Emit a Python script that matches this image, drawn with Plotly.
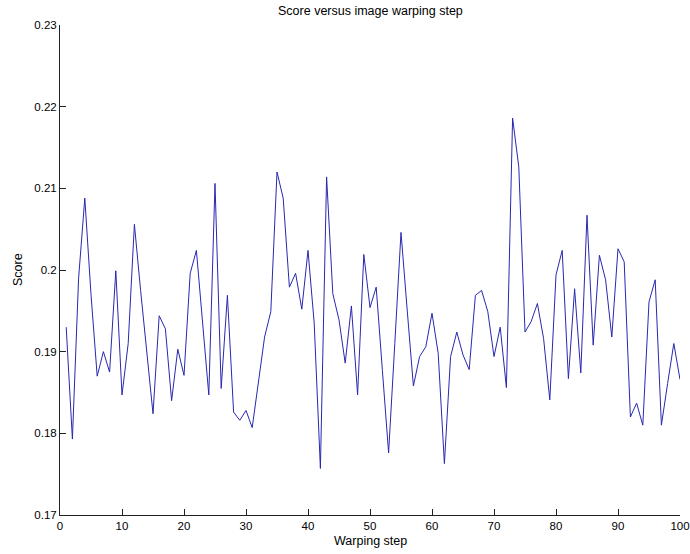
import plotly.graph_objects as go

steps = list(range(1, 101))
scores = [
    0.1930, 0.1793, 0.1990, 0.2088, 0.1970, 0.1870, 0.1900, 0.1875, 0.1999, 0.1847,
    0.1910, 0.2056, 0.1975, 0.1902, 0.1824, 0.1944, 0.1928, 0.1840, 0.1903, 0.1871,
    0.1996, 0.2024, 0.1935, 0.1847, 0.2106, 0.1855, 0.1969, 0.1826, 0.1816, 0.1828,
    0.1807, 0.1863, 0.1918, 0.1949, 0.2120, 0.2088, 0.1979, 0.1996, 0.1952, 0.2024,
    0.1935, 0.1757, 0.2114, 0.1971, 0.1939, 0.1886, 0.1956, 0.1847, 0.2019, 0.1954,
    0.1979, 0.1877, 0.1776, 0.1910, 0.2046, 0.1951, 0.1858, 0.1894, 0.1906, 0.1947,
    0.1898, 0.1763, 0.1894, 0.1924, 0.1896, 0.1878, 0.1969, 0.1975, 0.1949, 0.1894,
    0.1930, 0.1856, 0.2186, 0.2126, 0.1924, 0.1937, 0.1959, 0.1916, 0.1841, 0.1994,
    0.2024, 0.1867, 0.1977, 0.1874, 0.2067, 0.1908, 0.2018, 0.1988, 0.1918, 0.2026,
    0.2010, 0.1820, 0.1837, 0.1810, 0.1961, 0.1988, 0.1810, 0.1861, 0.1910, 0.1866,
]

x_ticks = list(range(0, 101, 10))
y_ticks = [0.17, 0.18, 0.19, 0.20, 0.21, 0.22, 0.23]
y_tick_labels = ["0.17", "0.18", "0.19", "0.2", "0.21", "0.22", "0.23"]

title_text = "Score versus image warping step"
x_label = "Warping step"
y_label = "Score"

font_family = "Liberation Sans, Arial, Helvetica, sans-serif"

fig = go.Figure()
fig.add_trace(go.Scatter(
    x=steps, y=scores, mode="lines",
    line=dict(color="#2828b0", width=1),
    showlegend=False, hoverinfo="x+y",
))

axis_common = dict(
    showgrid=False, zeroline=False,
    showline=True, linecolor="#222222", linewidth=1,
    ticks="inside", ticklen=6, tickcolor="#222222", tickwidth=1,
    tickfont=dict(family=font_family, size=11.5, color="black"),
    mirror=False, automargin=False,
)

fig.update_xaxes(
    range=[0, 100], tickmode="array", tickvals=x_ticks,
    ticktext=[str(t) for t in x_ticks], **axis_common,
)
fig.update_yaxes(
    range=[0.17, 0.23], tickmode="array", tickvals=y_ticks,
    ticktext=y_tick_labels, **axis_common,
)

fig.update_layout(
    width=690, height=554,
    margin=dict(l=60, r=10, t=25, b=39, pad=0, autoexpand=False),
    paper_bgcolor="white", plot_bgcolor="white",
    font=dict(family=font_family, size=11, color="black"),
    annotations=[
        dict(text=title_text, x=0.5, y=1, xref="paper", yref="paper",
             xanchor="center", yanchor="bottom", yshift=5, showarrow=False,
             font=dict(family=font_family, size=12.5, color="black")),
        dict(text=x_label, x=0.5, y=0, xref="paper", yref="paper",
             xanchor="center", yanchor="middle", yshift=-26, showarrow=False,
             font=dict(family=font_family, size=12.5, color="black")),
        dict(text=y_label, x=0, y=0.5, xref="paper", yref="paper",
             xanchor="center", yanchor="middle", xshift=-42, textangle=-90,
             showarrow=False,
             font=dict(family=font_family, size=12.5, color="black")),
    ],
)

fig.write_html("out.html")
